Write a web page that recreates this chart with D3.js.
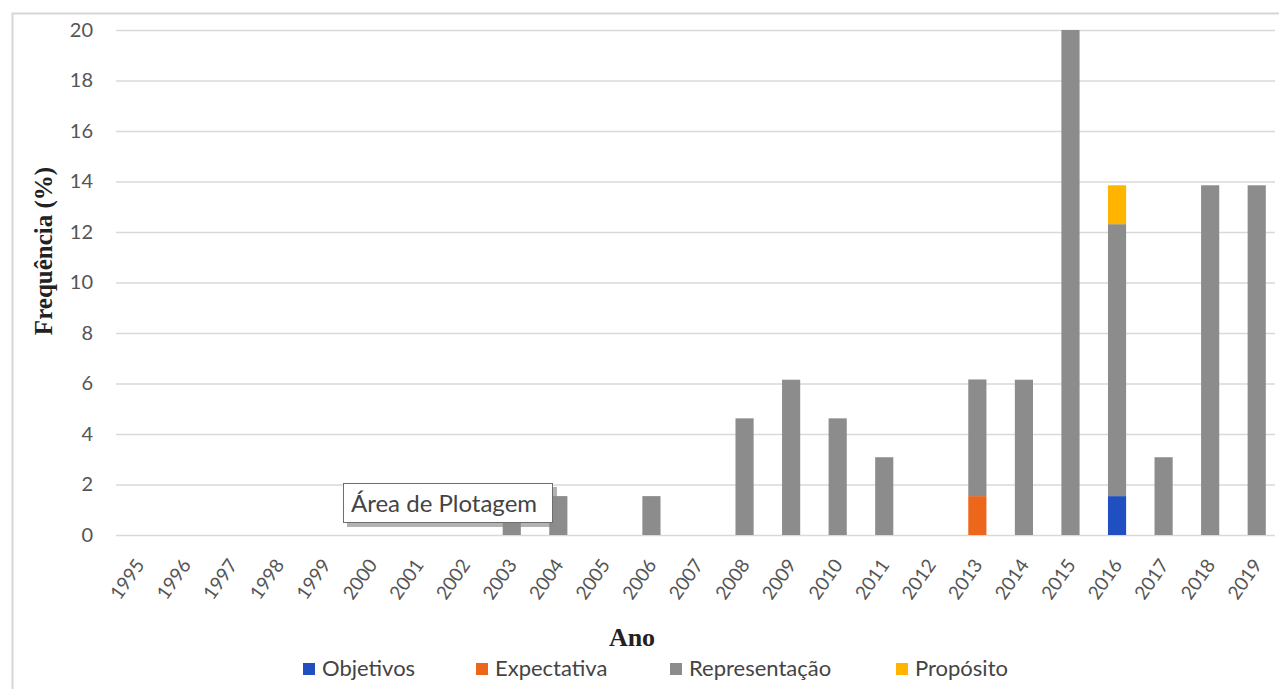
<!DOCTYPE html>
<html>
<head>
<meta charset="utf-8">
<script src="https://cdn.jsdelivr.net/npm/d3@7"></script>
<style>
  html, body { margin: 0; padding: 0; background: #fff; }
  svg { display: block; }
</style>
</head>
<body>
<svg id="chart" width="1279" height="689"></svg>
<script>
// Publication frequency by year, split by category (percent of all studies)
const years = ["1995","1996","1997","1998","1999","2000","2001","2002","2003","2004","2005","2006","2007","2008","2009","2010","2011","2012","2013","2014","2015","2016","2017","2018","2019"];
const objetivos     = [0,0,0,0,0,0,0,0,0,0,0,0,0,0,0,0,0,0,0,0,0,1.54,0,0,0];
const expectativa   = [0,0,0,0,0,0,0,0,0,0,0,0,0,0,0,0,0,0,1.54,0,0,0,0,0,0];
const representacao = [0,0,0,0,0,0,0,0,1.54,1.54,0,1.54,0,4.62,6.15,4.62,3.08,0,4.62,6.15,20.0,10.77,3.08,13.85,13.85];
const proposito     = [0,0,0,0,0,0,0,0,0,0,0,0,0,0,0,0,0,0,0,0,0,1.54,0,0,0];
const seriesNames = ["Objetivos","Expectativa","Representação","Propósito"];
const seriesColors = ["#1f4fc0","#ec661c","#8c8c8c","#ffb400"];
const yTicks = [0,2,4,6,8,10,12,14,16,18,20];

const svg = d3.select("#chart");
const W = 1279, H = 689;
const plot = { left: 116, right: 1280, top: 30, bottom: 535 };
const sans = "Lato, 'Open Sans', sans-serif";
const serif = "'Liberation Serif', 'Times New Roman', serif";

// outer chart frame
svg.append("path")
  .attr("d", `M12.5,${H} L12.5,13.5 L${W},13.5`)
  .attr("fill", "none").attr("stroke", "#d6d6d6").attr("stroke-width", 2);

const rows = years.map((y, i) => ({
  year: y,
  "Objetivos": objetivos[i],
  "Expectativa": expectativa[i],
  "Representação": representacao[i],
  "Propósito": proposito[i]
}));

const x = d3.scaleBand().domain(years).range([plot.left, plot.right]).paddingInner(0.61).paddingOuter(0.305);
const y = d3.scaleLinear().domain([0, 20]).range([plot.bottom, plot.top]);
const color = d3.scaleOrdinal().domain(seriesNames).range(seriesColors);

// gridlines
svg.append("g")
  .selectAll("line").data(yTicks).join("line")
  .attr("x1", plot.left).attr("x2", W - 4)
  .attr("y1", d => y(d) + 0.5).attr("y2", d => y(d) + 0.5)
  .attr("stroke", "#d9d9d9").attr("stroke-width", 1.6);

// y axis labels
const yAxis = d3.axisLeft(y).tickValues(yTicks).tickSize(0).tickPadding(0);
svg.append("g").attr("transform", `translate(93,0)`).call(yAxis)
  .call(g => g.select(".domain").remove())
  .selectAll("text")
  .attr("font-family", sans)
  .attr("font-size", 20).attr("fill", "#555");

// stacked bars
const stack = d3.stack().keys(seriesNames)(rows);
svg.append("g").selectAll("g").data(stack).join("g")
  .attr("fill", d => color(d.key))
  .selectAll("rect").data(d => d).join("rect")
  .attr("x", d => x(d.data.year))
  .attr("width", x.bandwidth())
  .attr("y", d => y(d[1]))
  .attr("height", d => Math.max(0, y(d[0]) - y(d[1])));

// x axis labels, slanted
const xAxis = d3.axisBottom(x).tickSize(0).tickPadding(0);
svg.append("g").attr("transform", `translate(0,${plot.bottom})`).call(xAxis)
  .call(g => g.select(".domain").remove())
  .selectAll("text")
  .attr("font-family", sans)
  .attr("font-size", 19).attr("fill", "#555")
  .attr("text-anchor", "end")
  .attr("y", 0).attr("dy", 0)
  .attr("transform", "translate(6,30) rotate(-55)");

// axis titles
svg.append("text")
  .attr("x", 632).attr("y", 646)
  .attr("text-anchor", "middle")
  .attr("font-family", serif)
  .attr("font-weight", "bold").attr("font-size", 26).attr("fill", "#222")
  .text("Ano");

svg.append("text")
  .attr("transform", "translate(52,251) rotate(-90)")
  .attr("text-anchor", "middle")
  .attr("font-family", serif)
  .attr("font-weight", "bold").attr("font-size", 25).attr("fill", "#222")
  .text("Frequência (%)");

// legend
const legendX = [303, 476, 670, 896];
const legend = svg.append("g").selectAll("g").data(seriesNames).join("g")
  .attr("transform", (d, i) => `translate(${legendX[i]},669)`);
legend.append("rect").attr("x", 0).attr("y", -6).attr("width", 12).attr("height", 12)
  .attr("fill", d => color(d));
legend.append("text").attr("x", 19).attr("y", 7)
  .attr("font-family", sans)
  .attr("font-size", 22).attr("fill", "#444")
  .text(d => d);

// hover tooltip naming the plot area
const tip = svg.append("g").attr("transform", "translate(343,483)");
tip.append("rect").attr("x", 4).attr("y", 4).attr("width", 210).attr("height", 40)
  .attr("fill", "#8a8a8a").attr("opacity", 0.65);
tip.append("rect").attr("x", 0.5).attr("y", 0.5).attr("width", 209).attr("height", 39)
  .attr("fill", "#fff").attr("stroke", "#6e6e6e").attr("stroke-width", 1);
tip.append("text").attr("x", 8).attr("y", 29)
  .attr("font-family", sans)
  .attr("font-size", 24).attr("fill", "#444")
  .text("Área de Plotagem");
</script>
</body>
</html>
